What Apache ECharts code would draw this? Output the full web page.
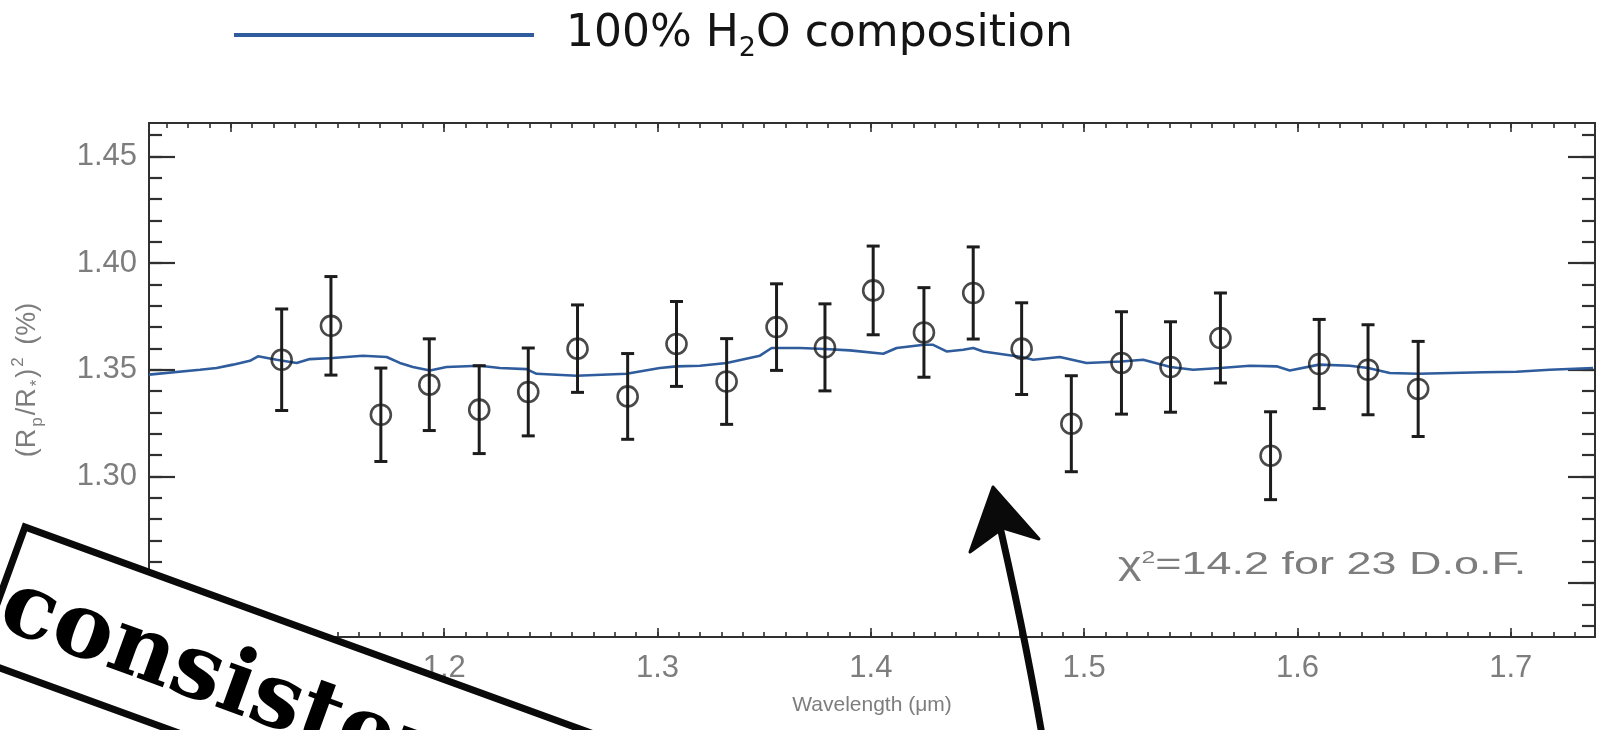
<!DOCTYPE html>
<html>
<head>
<meta charset="utf-8">
<title>Transmission spectrum</title>
<script src="https://cdn.jsdelivr.net/npm/echarts@6/dist/echarts.min.js"></script>
<style>
  html, body { margin: 0; padding: 0; background: #ffffff; }
  #chart { width: 1603px; height: 730px; }
</style>
</head>
<body>
<div id="chart"></div>
<script>
// Measured transit depths (%) with 1-sigma uncertainties
const wavelength = [1.1238, 1.1469, 1.1703, 1.1930, 1.2164, 1.2394, 1.2625, 1.2860,
                    1.3089, 1.3324, 1.3558, 1.3785, 1.4011, 1.4249, 1.4480, 1.4707,
                    1.4940, 1.5175, 1.5405, 1.5639, 1.5874, 1.6102, 1.6331, 1.6566];
const depth = [1.3547, 1.3706, 1.3289, 1.3430, 1.3313, 1.3396, 1.3599, 1.3375,
               1.3621, 1.3445, 1.3700, 1.3605, 1.3872, 1.3675, 1.3860, 1.3599,
               1.3247, 1.3532, 1.3513, 1.3649, 1.3097, 1.3527, 1.3500, 1.3410];
const depthErr = [0.0238, 0.0231, 0.0219, 0.0215, 0.0206, 0.0206, 0.0205, 0.0201,
                  0.0199, 0.0201, 0.0203, 0.0204, 0.0208, 0.0210, 0.0216, 0.0215,
                  0.0225, 0.0240, 0.0212, 0.0211, 0.0206, 0.0209, 0.0211, 0.0223];

// Model spectrum: 100% water atmosphere
const modelWl = [1.0616, 1.0855, 1.0933, 1.1010, 1.1089, 1.1127, 1.1214, 1.1308, 1.1370,
                 1.1478, 1.1619, 1.1730, 1.1792, 1.1853, 1.1933, 1.2011, 1.2167, 1.2261,
                 1.2386, 1.2433, 1.2621, 1.2855, 1.3011, 1.3089, 1.3199, 1.3324, 1.3480,
                 1.3535, 1.3668, 1.3785, 1.3902, 1.4058, 1.4121, 1.4249, 1.4292, 1.4355,
                 1.4433, 1.4480, 1.4527, 1.4707, 1.4761, 1.4886, 1.5011, 1.5175, 1.5277,
                 1.5405, 1.5511, 1.5639, 1.5777, 1.5902, 1.5964, 1.6102, 1.6246, 1.6331,
                 1.6433, 1.6566, 1.6871, 1.7027, 1.7183, 1.7386];
const modelDepth = [1.3477, 1.3500, 1.3508, 1.3524, 1.3542, 1.3563, 1.3547, 1.3532, 1.3550,
                    1.3555, 1.3566, 1.3560, 1.3532, 1.3513, 1.3497, 1.3513, 1.3519, 1.3508,
                    1.3503, 1.3481, 1.3472, 1.3481, 1.3508, 1.3516, 1.3519, 1.3532, 1.3566,
                    1.3602, 1.3602, 1.3597, 1.3591, 1.3575, 1.3602, 1.3617, 1.3617, 1.3586,
                    1.3594, 1.3602, 1.3586, 1.3560, 1.3547, 1.3560, 1.3532, 1.3539, 1.3547,
                    1.3513, 1.3500, 1.3508, 1.3519, 1.3516, 1.3497, 1.3524, 1.3519, 1.3508,
                    1.3485, 1.3481, 1.3488, 1.3491, 1.3500, 1.3508];

// Axis ranges and tick positions
const xRange = [1.0616, 1.7395];
const yRange = [1.2247, 1.4657];
const xMajorTicks = [1.1, 1.2, 1.3, 1.4, 1.5, 1.6, 1.7];
const yMajorTicks = [1.25, 1.30, 1.35, 1.40, 1.45];
const minorStep = 0.01;

const modelName = '100% H2O composition';
const fitNote = 'χ{sup|2}=14.2 for 23 D.o.F.';

function minorTicks(range) {
  const out = [];
  for (let k = Math.ceil(range[0] / minorStep); k * minorStep <= range[1]; k++) {
    out.push(+(k * minorStep).toFixed(4));
  }
  return out;
}
const xMinorTicks = minorTicks(xRange);
const yMinorTicks = minorTicks(yRange);

const GRAY = '#7d7d7d';
const FRAME = '#303030';
const INK = '#0a0a0a';
const LABEL_FONT = '"Liberation Sans", Arial, sans-serif';

function xAxisDef(position, ticks, len, withLabels) {
  return {
    type: 'value', position: position, min: xRange[0], max: xRange[1],
    axisLine: { show: true, onZero: false, lineStyle: { color: FRAME, width: 2 } },
    splitLine: { show: false },
    axisTick: { show: true, inside: true, length: len, customValues: ticks,
                lineStyle: { color: FRAME, width: 1.6 } },
    axisLabel: withLabels ? {
      show: true, customValues: xMajorTicks, margin: 16, color: GRAY,
      fontFamily: LABEL_FONT, fontSize: 31,
      formatter: v => v.toFixed(1)
    } : { show: false }
  };
}
function yAxisDef(position, ticks, len, withLabels) {
  return {
    type: 'value', position: position, min: yRange[0], max: yRange[1],
    axisLine: { show: true, onZero: false, lineStyle: { color: FRAME, width: 2 } },
    splitLine: { show: false },
    axisTick: { show: true, inside: true, length: len, customValues: ticks,
                lineStyle: { color: FRAME, width: 2.2 } },
    axisLabel: withLabels ? {
      show: true, customValues: yMajorTicks, margin: 12, color: GRAY,
      fontFamily: LABEL_FONT, fontSize: 31,
      formatter: v => v.toFixed(2)
    } : { show: false }
  };
}

const xAxes = [
  Object.assign(xAxisDef('bottom', xMajorTicks, 9, true), {
    name: 'Wavelength (μm)', nameLocation: 'middle', nameGap: 58,
    nameTextStyle: { color: GRAY, fontFamily: LABEL_FONT, fontSize: 21 }
  }),
  xAxisDef('bottom', xMinorTicks, 5, false),
  xAxisDef('top', xMajorTicks, 9, false),
  xAxisDef('top', xMinorTicks, 5, false)
];
const yAxes = [
  Object.assign(yAxisDef('left', yMajorTicks, 26, true), {
    name: '{w|(R}{sub|p}{w|/R}{sub|*}{w|)}{sup|2}{w| (%)}', nameLocation: 'middle', nameGap: 103,
    nameTextStyle: {
      color: GRAY, fontFamily: LABEL_FONT, fontSize: 27, lineHeight: 36,
      rich: {
        w: { fontSize: 27, lineHeight: 36, color: GRAY, fontFamily: LABEL_FONT, padding: [0, 1] },
        sub: { fontSize: 17, lineHeight: 17, verticalAlign: 'bottom', color: GRAY,
               fontFamily: LABEL_FONT, padding: [0, 1] },
        sup: { fontSize: 17, lineHeight: 17, verticalAlign: 'top', color: GRAY,
               fontFamily: LABEL_FONT, padding: [0, 4, 0, 1] }
      }
    }
  }),
  yAxisDef('left', yMinorTicks, 13, false),
  yAxisDef('right', yMajorTicks, 27, false),
  yAxisDef('right', yMinorTicks, 13, false)
];

const chart = echarts.init(document.getElementById('chart'), null, { renderer: 'canvas' });

chart.setOption({
  backgroundColor: '#ffffff',
  animation: false,
  grid: { left: 149, right: 8, top: 123, bottom: 93, containLabel: false, outerBoundsMode: 'none' },
  legend: {
    left: 229, top: 3,
    icon: 'rect', itemWidth: 300, itemHeight: 4,
    data: [modelName],
    formatter: () => '{gap|}100% H{sub|2}O composition',
    textStyle: {
      color: '#141414', fontFamily: '"DejaVu Sans", sans-serif', fontSize: 44, lineHeight: 54,
      rich: {
        gap: { width: 27 },
        sub: { fontSize: 27, lineHeight: 27, verticalAlign: 'bottom', color: '#141414',
               fontFamily: '"DejaVu Sans", sans-serif' }
      }
    }
  },
  xAxis: xAxes,
  yAxis: yAxes,
  series: [
    {
      name: modelName,
      type: 'line',
      data: modelWl.map((w, i) => [w, modelDepth[i]]),
      showSymbol: false,
      smooth: false,
      color: '#2f5c9c',
      lineStyle: { color: '#2f5c9c', width: 2.6 },
      z: 2
    },
    {
      name: 'error bars',
      type: 'custom',
      data: wavelength.map((w, i) => [w, depth[i] - depthErr[i], depth[i] + depthErr[i]]),
      renderItem: function (params, api) {
        const lo = api.coord([api.value(0), api.value(1)]);
        const hi = api.coord([api.value(0), api.value(2)]);
        const cap = 6.5;
        const st = { stroke: '#1c1c1c', lineWidth: 3 };
        return {
          type: 'group',
          children: [
            { type: 'line', shape: { x1: lo[0], y1: lo[1], x2: hi[0], y2: hi[1] }, style: st },
            { type: 'line', shape: { x1: lo[0] - cap, y1: lo[1], x2: lo[0] + cap, y2: lo[1] }, style: st },
            { type: 'line', shape: { x1: hi[0] - cap, y1: hi[1], x2: hi[0] + cap, y2: hi[1] }, style: st }
          ]
        };
      },
      z: 3
    },
    {
      name: 'measured',
      type: 'scatter',
      data: wavelength.map((w, i) => [w, depth[i]]),
      symbol: 'circle',
      symbolSize: 20,
      itemStyle: { color: 'rgba(0,0,0,0)', borderColor: '#1c1c1c', borderWidth: 2.6 },
      z: 4
    }
  ],
  graphic: [
    {
      type: 'text', left: 1118, top: 550, z: 10, scaleX: 1.45, originX: 0,
      style: {
        text: fitNote, fill: GRAY, fontFamily: LABEL_FONT, fontSize: 31,
        rich: { sup: { fontSize: 17, verticalAlign: 'top', lineHeight: 17, fill: GRAY, fontFamily: LABEL_FONT } }
      }
    },
    // stamp overlay
    {
      type: 'group', x: 25, y: 527, rotation: -20 * Math.PI / 180, z: 100,
      children: [
        { type: 'rect', z: 100, shape: { x: 0, y: 0, width: 900, height: 141 },
          style: { fill: '#ffffff', stroke: INK, lineWidth: 7 } },
        { type: 'text', z: 101, x: 6, y: 80,
          style: { text: 'consistent', fill: '#000000', fontSize: 90, fontWeight: 'bold',
                   fontFamily: '"DejaVu Serif", serif', verticalAlign: 'middle', align: 'left' } }
      ]
    },
    // hand-drawn arrow
    {
      type: 'group', z: 100,
      children: [
        { type: 'bezierCurve', z: 100,
          shape: { x1: 1042, y1: 735, x2: 995, y2: 505, cpx1: 1024, cpy1: 630 },
          style: { stroke: INK, fill: null, lineWidth: 7, lineCap: 'round' } },
        { type: 'polygon', z: 100, shape: { points: [[993, 487], [1039, 539], [1003, 528], [970, 552]] },
          style: { fill: INK, stroke: INK, lineWidth: 3, lineJoin: 'round' } }
      ]
    }
  ]
});
</script>
</body>
</html>
